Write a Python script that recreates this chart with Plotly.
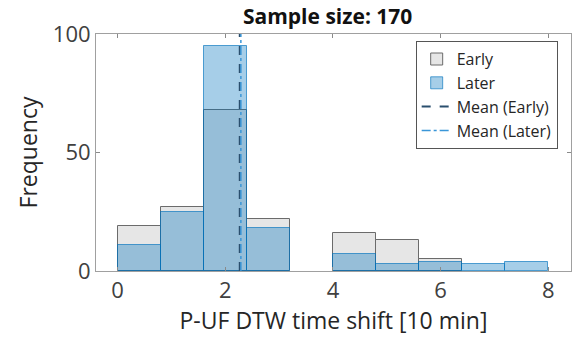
import plotly.graph_objects as go

bin_edges = [0.0, 0.8, 1.6, 2.4, 3.2, 4.0, 4.8, 5.6, 6.4, 7.2, 8.0]
early_counts = [19, 27, 68, 22, 0, 16, 13, 5, 0, 0]
later_counts = [11, 25, 95, 18, 0, 7, 3, 4, 3, 4]
mean_early = 2.27
mean_later = 2.29
sample_size = 170

centers = [(a + b) / 2 for a, b in zip(bin_edges[:-1], bin_edges[1:])]
widths = [b - a for a, b in zip(bin_edges[:-1], bin_edges[1:])]


def nz(vals):
    # empty bins are not drawn (no outline along the baseline)
    return [v if v else None for v in vals]


FONT = "Open Sans"
TXT = "#262626"

fig = go.Figure()
fig.add_trace(go.Bar(
    x=centers, y=nz(early_counts), width=widths, name="Early",
    marker=dict(color="#e6e6e6", line=dict(color="#6b6b6b", width=1)),
))
fig.add_trace(go.Bar(
    x=centers, y=nz(later_counts), width=widths, name="Later",
    marker=dict(color="rgba(0,114,189,0.35)", line=dict(color="rgba(0,114,189,0.65)", width=1)),
))
fig.add_trace(go.Scatter(
    x=[mean_early, mean_early], y=[0, 100], mode="lines", name="Mean (Early)",
    line=dict(color="#2a4f6e", width=2, dash="dash"),
))
fig.add_trace(go.Scatter(
    x=[mean_later, mean_later], y=[0, 100], mode="lines", name="Mean (Later)",
    line=dict(color="#3a96d8", width=1.5, dash="dashdot"),
))

fig.update_layout(
    width=582, height=340,
    margin=dict(l=96, r=11, t=34, b=69),
    barmode="overlay",
    bargap=0,
    plot_bgcolor="white",
    paper_bgcolor="white",
    font=dict(family=FONT, size=20, color=TXT),
    title=dict(text="<b>Sample size: %d</b>" % sample_size, x=0.563, xanchor="center",
               y=0.95, yanchor="middle", font=dict(family=FONT, size=21, color="#111111")),
    showlegend=True,
    legend=dict(x=0.673, y=0.97, xanchor="left", yanchor="top",
                bgcolor="white", bordercolor="#555555", borderwidth=1,
                font=dict(family=FONT, size=16, color=TXT),
                tracegroupgap=0, itemwidth=30),
)
fig.update_xaxes(
    range=[-0.4, 8.42], tickvals=[0, 2, 4, 6, 8],
    ticks="inside", ticklen=4, tickcolor="#8a8a8a",
    showline=True, linecolor="#a0a0a0", linewidth=1, mirror="ticks",
    showgrid=False, zeroline=False,
    tickfont=dict(family=FONT, size=22, color="#404040"),
    title=dict(text="P-UF DTW time shift [10 min]", standoff=2,
               font=dict(family=FONT, size=23, color=TXT)),
)
fig.update_yaxes(
    range=[0, 100], tickvals=[0, 50, 100],
    ticks="inside", ticklen=4, tickcolor="#8a8a8a",
    showline=True, linecolor="#a0a0a0", linewidth=1, mirror="ticks",
    showgrid=False, zeroline=False,
    tickfont=dict(family=FONT, size=22, color="#404040"),
    title=dict(text="Frequency", standoff=8,
               font=dict(family=FONT, size=23, color=TXT)),
)

fig.write_html("out.html")
